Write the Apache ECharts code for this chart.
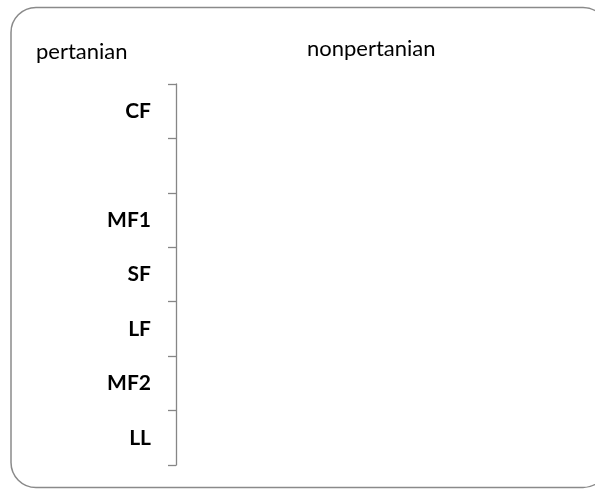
<!DOCTYPE html>
<html>
<head>
<meta charset="utf-8">
<style>html,body{margin:0;padding:0;background:#fff}#c{width:595px;height:489px}</style>
<script src="https://cdn.jsdelivr.net/npm/echarts@6/dist/echarts.min.js"></script>
</head>
<body>
<div id="c"></div>
<script>
var categories = ['CF', '', 'MF1', 'SF', 'LF', 'MF2', 'LL'];
var pertanian = [0, 0, 0, 0, 0, 0, 0];
var nonpertanian = [0, 0, 0, 0, 0, 0, 0];
var seriesNames = ['pertanian', 'nonpertanian'];

var chart = echarts.init(document.getElementById('c'), null, {renderer: 'canvas'});
var font = 'Lato, Carlito, Calibri, sans-serif';
chart.setOption({
  animation: false,
  backgroundColor: '#fff',
  graphic: [{
    type: 'rect',
    shape: {x: 11, y: 7.5, width: 597, height: 480, r: 25},
    style: {fill: 'none', stroke: '#8a8a8a', lineWidth: 1.5},
    silent: true, z: -1
  }],
  legend: [
    {data: [seriesNames[0]], left: 26, top: 36, icon: 'none', itemWidth: 0, itemGap: 0,
     textStyle: {fontFamily: font, fontSize: 22, color: '#000'}},
    {data: [seriesNames[1]], left: 297, top: 33, icon: 'none', itemWidth: 0, itemGap: 0,
     textStyle: {fontFamily: font, fontSize: 22, color: '#000'}}
  ],
  grid: {left: 176, top: 84, bottom: 24, right: 20, containLabel: false},
  xAxis: {type: 'value', show: false, min: 0, max: 1},
  yAxis: {
    type: 'category', data: categories, inverse: true,
    axisLine: {show: true, lineStyle: {color: '#868686', width: 1.3}},
    axisTick: {show: true, length: 8, lineStyle: {color: '#868686', width: 1.3}},
    axisLabel: {margin: 25, fontFamily: font, fontSize: 21, fontWeight: 'bold', color: '#000'},
    splitLine: {show: false}
  },
  series: [
    {name: seriesNames[0], type: 'bar', data: pertanian, itemStyle: {color: '#4f81bd'}},
    {name: seriesNames[1], type: 'bar', data: nonpertanian, itemStyle: {color: '#c0504d'}}
  ]
});
</script>
</body>
</html>
